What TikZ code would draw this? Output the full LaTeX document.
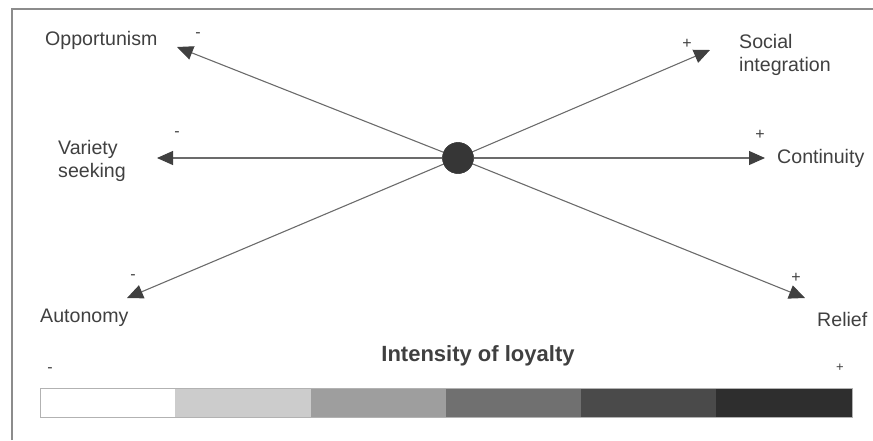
\documentclass[tikz,border=0pt]{standalone}
\usepackage{fontspec}
\setmainfont{Liberation Sans}
\usetikzlibrary{arrows.meta}
\definecolor{ink}{gray}{0.25}
\definecolor{linegray}{gray}{0.42}
\definecolor{framegray}{gray}{0.55}
\definecolor{shadeA}{gray}{1.0}
\definecolor{shadeB}{gray}{0.80}
\definecolor{shadeC}{gray}{0.62}
\definecolor{shadeD}{gray}{0.44}
\definecolor{shadeE}{gray}{0.29}
\definecolor{shadeF}{gray}{0.18}
\tikzset{
  lbl/.style={text=ink, font=\fontsize{19.6}{23}\selectfont, inner sep=0pt},
  sign/.style={text=ink, font=\fontsize{16}{18}\selectfont, inner sep=0pt},
  ray/.style={draw=linegray, line width=1.1pt,
    -{Triangle[length=16pt,width=14pt,fill=ink,color=ink]}},
  hub/.style={circle, fill=ink!85!black, draw=ink, minimum size=31pt, inner sep=0pt},
  cell/.style={draw=gray!60, line width=0.6pt}
}
\begin{document}
\begin{tikzpicture}[x=1pt,y=-1pt]
  \useasboundingbox (0,0) rectangle (873,440);
  % frame
  \draw[framegray, line width=1.3pt] (12,440) -- (12,9) -- (873,9);

  % centre
  \node[hub] (c) at (458,158) {};

  % arrow tips
  \coordinate (tOpp) at (177,47);
  \coordinate (tVar) at (157,158);
  \coordinate (tAut) at (127,298);
  \coordinate (tSoc) at (710,50);
  \coordinate (tCon) at (765,158);
  \coordinate (tRel) at (805,298);

  \draw[ray] (c.center) -- (tOpp);
  \draw[ray] (c.center) -- (tVar);
  \draw[ray] (c.center) -- (tAut);
  \draw[ray] (c.center) -- (tSoc);
  \draw[ray] (c.center) -- (tCon);
  \draw[ray] (c.center) -- (tRel);
  \node[hub] at (c) {};

  % labels
  \node[lbl, anchor=west] (lOpp) at (45,40) {Opportunism};
  \node[lbl, anchor=west, align=left] (lVar) at (58,161) {Variety\\seeking};
  \node[lbl, anchor=west] (lAut) at (40,318) {Autonomy};
  \node[lbl, anchor=west, align=left] (lSoc) at (739,55) {Social\\integration};
  \node[lbl, anchor=west] (lCon) at (777,158) {Continuity};
  \node[lbl, anchor=west] (lRel) at (817,319) {Relief};

  % signs
  \node[sign] (sOpp) at (198,35) {-};
  \node[sign] (sVar) at (177,134) {-};
  \node[sign] (sAut) at (133,277) {-};
  \node[sign] (sSoc) at (687,44) {+};
  \node[sign] (sCon) at (760,135) {+};
  \node[sign] (sRel) at (796,278) {+};

  % intensity scale
  \node[text=ink, font=\bfseries\fontsize{22}{25}\selectfont, inner sep=0pt] (title) at (478,356) {Intensity of loyalty};
  \node[sign] (sLow) at (50,370) {-};
  \node[sign, font=\fontsize{13}{15}\selectfont] (sHigh) at (840,368) {+};
  \fill[shadeA] (40,388) rectangle (175,417);
  \fill[shadeB] (175,388) rectangle (311,417);
  \fill[shadeC] (311,388) rectangle (446,417);
  \fill[shadeD] (446,388) rectangle (581,417);
  \fill[shadeE] (581,388) rectangle (716,417);
  \fill[shadeF] (716,388) rectangle (852,417);
  \draw[cell] (40,388) rectangle (852,417);
\end{tikzpicture}
\end{document}
